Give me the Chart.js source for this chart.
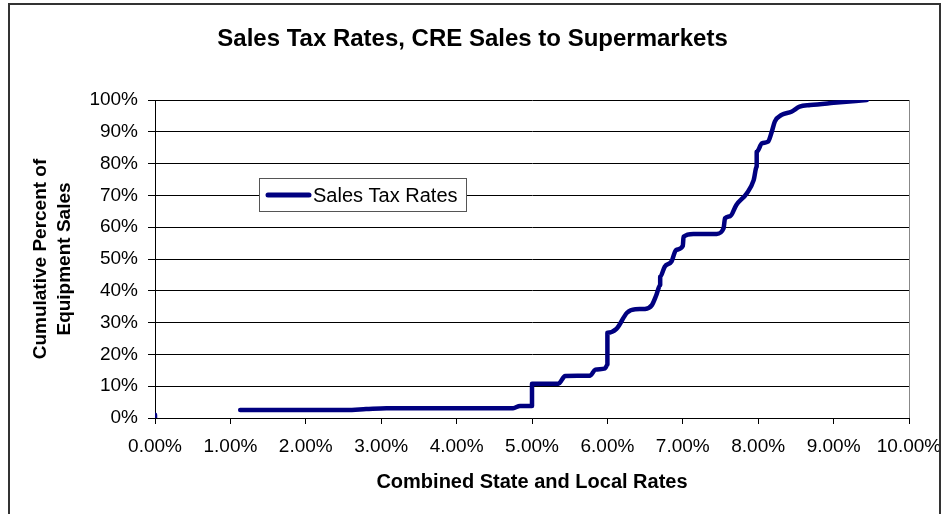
<!DOCTYPE html>
<html>
<head>
<meta charset="utf-8">
<script src="https://cdn.jsdelivr.net/npm/chart.js@4/dist/chart.umd.min.js"></script>
<style>
  html, body { margin: 0; padding: 0; background: #fff; }
  canvas { display: block; }
</style>
</head>
<body>
<canvas id="lienzo" width="945" height="514"></canvas>
<script>
"use strict";

// Tasa combinada (%) y porcentaje acumulado de ventas (%)
const tasas = [
  0, 0, 0.5,
  1.13, 2.54, 2.8, 3.07, 4.75, 4.84, 5.0, 5.0,
  5.35, 5.44, 5.77, 5.84, 5.97, 6.0, 6.0,
  6.12, 6.26, 6.37, 6.5, 6.59, 6.65, 6.7, 6.7,
  6.76, 6.85, 6.91, 7.0, 7.01, 7.14, 7.45, 7.54,
  7.56, 7.63, 7.71, 7.85, 7.94, 7.98, 7.98, 8.05,
  8.13, 8.18, 8.22, 8.31, 8.44, 8.55, 8.69, 9.0, 9.44,
];
const acumulado = [
  0, 1, null,
  2.5, 2.5, 2.8, 3.1, 3.1, 3.8, 3.8, 10.8,
  10.8, 13.2, 13.3, 15.2, 15.6, 16.8, 26.8,
  28, 33.1, 34.2, 34.3, 35.5, 38.7, 41.8, 44.4,
  47.6, 49.2, 52.8, 54.1, 57.0, 57.9, 57.9, 59.6,
  62.8, 63.5, 67, 70.7, 74.8, 79, 83.7, 86.4,
  86.9, 90, 93.2, 95.3, 96.3, 97.9, 98.4, 99.1, 100,
];
const etiquetasX = ["0.00%", "1.00%", "2.00%", "3.00%", "4.00%", "5.00%",
  "6.00%", "7.00%", "8.00%", "9.00%", "10.00%"];
const etiquetasY = ["0%", "10%", "20%", "30%", "40%", "50%",
  "60%", "70%", "80%", "90%", "100%"];

const fuente = "Arial, 'Liberation Sans', sans-serif";
const azul = "#000080";

/* ── Marco exterior ───────────────────── */
const marco = {
  id: "marco",
  afterDraw(chart) {
    const c = chart.ctx;
    c.save();
    c.strokeStyle = "#333";
    c.lineWidth = 2;
    c.beginPath();
    c.moveTo(9, 520);
    c.lineTo(9, 4);
    c.lineTo(940, 4);
    c.lineTo(940, 520);
    c.stroke();
    c.restore();
  },
};

/* ── Borde derecho del área del gráfico ── */
const bordeArea = {
  id: "bordeArea",
  beforeDatasetsDraw(chart) {
    const a = chart.chartArea;
    const c = chart.ctx;
    c.save();
    c.strokeStyle = "#888";
    c.lineWidth = 1;
    c.beginPath();
    c.moveTo(a.right + 0.5, a.bottom);
    c.lineTo(a.right + 0.5, a.top);
    c.stroke();
    c.restore();
  },
};

/* ── Leyenda dentro del gráfico ───────── */
const leyenda = {
  id: "leyenda",
  afterDraw(chart) {
    const c = chart.ctx;
    const ds = chart.data.datasets[0];
    c.save();
    c.fillStyle = "#fff";
    c.fillRect(259.5, 178.5, 207, 33);
    c.strokeStyle = "#555";
    c.lineWidth = 1;
    c.strokeRect(259.5, 178.5, 207, 33);
    c.strokeStyle = ds.borderColor;
    c.lineWidth = 5;
    c.lineCap = "round";
    c.beginPath();
    c.moveTo(268, 195);
    c.lineTo(309, 195);
    c.stroke();
    c.fillStyle = "#000";
    c.font = "20px " + fuente;
    c.textBaseline = "middle";
    c.fillText(ds.label, 313, 196);
    c.restore();
  },
};

const grafico = new Chart(document.getElementById("lienzo"), {
  type: "line",
  data: {
    datasets: [
      {
        label: "Sales Tax Rates",
        data: tasas.map((t, i) => ({ x: t, y: acumulado[i] })),
        borderColor: azul,
        backgroundColor: azul,
        borderWidth: 4.5,
        borderCapStyle: "round",
        borderJoinStyle: "round",
        pointRadius: 0,
        cubicInterpolationMode: "monotone",
        spanGaps: false,
      },
    ],
  },
  options: {
    responsive: false,
    animation: false,
    devicePixelRatio: 1,
    layout: { padding: { top: 20, left: 0, right: 0, bottom: 0 } },
    plugins: {
      legend: { display: false },
      tooltip: { enabled: false },
      title: {
        display: true,
        text: "Sales Tax Rates, CRE Sales to Supermarkets",
        color: "#000",
        font: { family: fuente, size: 24, weight: "bold", lineHeight: 1.2 },
        padding: { top: 5, bottom: 46.2 },
      },
    },
    scales: {
      x: {
        type: "linear",
        min: 0,
        max: 10,
        ticks: {
          stepSize: 1,
          color: "#000",
          font: { family: fuente, size: 19 },
          padding: 11,
          maxRotation: 0,
          callback: (v, i) => etiquetasX[i],
        },
        grid: {
          drawOnChartArea: false,
          drawTicks: true,
          tickLength: 6,
          color: "#000",
        },
        border: { display: true, color: "#000", width: 1 },
        title: {
          display: true,
          text: "Combined State and Local Rates",
          color: "#000",
          font: { family: fuente, size: 20, weight: "bold", lineHeight: 1.2 },
          padding: { top: 0, bottom: 20 },
        },
        afterFit(escala) {
          escala.height = 96;
          escala.paddingLeft = 0;
          escala.paddingRight = 36;
        },
      },
      y: {
        min: 0,
        max: 100,
        ticks: {
          stepSize: 10,
          color: "#000",
          font: { family: fuente, size: 19 },
          padding: 10,
          callback: (v, i) => etiquetasY[i],
        },
        grid: {
          drawTicks: true,
          tickLength: 7,
          color: "#000",
        },
        border: { display: true, color: "#000", width: 1 },
        title: {
          display: true,
          text: ["Cumulative Percent of", "Equipment Sales"],
          color: "#000",
          font: { family: fuente, size: 19, weight: "bold", lineHeight: 1.3 },
          padding: { top: 28, bottom: 0 },
        },
        afterFit(escala) {
          escala.width = 155;
          escala.paddingTop = 0;
          escala.paddingBottom = 0;
        },
      },
    },
  },
  plugins: [marco, bordeArea, leyenda],
});
</script>
</body>
</html>
